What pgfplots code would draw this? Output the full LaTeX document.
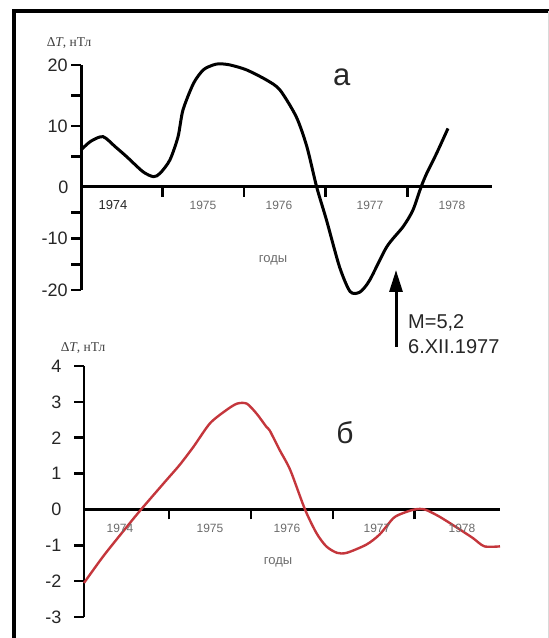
\documentclass[border=0pt]{standalone}
\usepackage{fontspec}
\setmainfont{Liberation Sans}
\newfontfamily\serifl{Liberation Serif}
\usepackage{pgfplots}
\pgfplotsset{compat=1.18}
\usetikzlibrary{arrows.meta}
\definecolor{curvered}{RGB}{196,54,60}
\definecolor{yrgray}{gray}{0.42}
\begin{document}
\begin{tikzpicture}[x=1pt,y=1pt]
\useasboundingbox (0,0) rectangle (549,638);
% frame
\draw[line width=3.3pt] (14,0) -- (14,627) -- (549,627);
\draw[black!15, line width=1pt] (548.5,0) -- (548.5,627);

% ---------- top panel (а) ----------
\begin{axis}[
  at={(81pt,348pt)}, anchor=south west,
  scale only axis, width=411pt, height=225pt,
  xmin=1974, xmax=1979.04, ymin=-20, ymax=20,
  y coord trafo/.code={\pgfmathparse{#1>0 ? 1.1845*#1 : #1}},
  clip=false,
  axis x line=middle, axis y line=left,
  axis line style={-, line width=3pt, black},
  tick align=outside,
  major tick length=10pt,
  every tick/.style={line width=2.8pt, black},
  major tick style={line width=2.8pt, black},
  xtick={1975,1976,1977,1978}, xticklabels={,,,},
  ytick={-20,-15,-10,-5,5,10,15,20},
  yticklabels={-20,,-10,,,10,,20},
  extra y ticks={0}, extra y tick labels={0},
  extra y tick style={major tick length=0pt, yticklabel style={xshift=-9pt}},
  yticklabel style={font=\fontsize{18}{18}\selectfont, text=black!85, anchor=east},
]
\addplot[black, line width=3pt, smooth, tension=0.45] coordinates {
(1974.00,6.07) (1974.12,7.5) (1974.27,8.25) (1974.42,6.6) (1974.56,4.97)
(1974.76,2.5) (1974.89,1.69) (1974.97,2.25) (1975.09,4.43) (1975.19,8.25)
(1975.25,12.6) (1975.38,17.0) (1975.50,19.2) (1975.62,20.0) (1975.70,20.2)
(1975.83,20.0) (1976.03,19.2) (1976.28,17.5) (1976.44,15.9) (1976.64,11.5)
(1976.77,6.6) (1976.89,0) (1977.01,-6.4) (1977.17,-15.5) (1977.30,-20.3)
(1977.42,-20.4) (1977.54,-18.1) (1977.75,-11.6) (1977.95,-7.7) (1978.07,-4.5)
(1978.17,0) (1978.24,2.25) (1978.36,5.5) (1978.50,9.6)
};
\end{axis}

% ---------- bottom panel (б) ----------
\begin{axis}[
  at={(84pt,21pt)}, anchor=south west,
  scale only axis, width=416pt, height=251pt,
  xmin=1973.963, xmax=1979.04, ymin=-3, ymax=4,
  clip=false,
  axis x line=middle, axis y line=left,
  axis line style={-, line width=2.8pt, black},
  tick align=outside,
  major tick length=10pt,
  every tick/.style={line width=2.6pt, black},
  major tick style={line width=2.6pt, black},
  xtick={1975,1976,1977,1978}, xticklabels={,,,},
  ytick={-3,-2,-1,1,2,3,4},
  yticklabels={-3,-2,-1,1,2,3,4},
  extra y ticks={0}, extra y tick labels={0},
  extra y tick style={major tick length=0pt, yticklabel style={xshift=-10pt}},
  yticklabel style={font=\fontsize{18}{18}\selectfont, text=black!85, anchor=east, xshift=-9pt},
]
\addplot[curvered, line width=2.4pt, smooth, tension=0.45] coordinates {
(1973.963,-2.05) (1974.20,-1.3) (1974.48,-0.5) (1974.66,0.0) (1974.97,0.82)
(1975.13,1.24) (1975.30,1.75) (1975.50,2.4) (1975.70,2.77) (1975.83,2.95)
(1975.95,2.95) (1976.07,2.67) (1976.19,2.3) (1976.23,2.2) (1976.35,1.66)
(1976.48,1.1) (1976.66,0.0) (1976.80,-0.66) (1976.92,-1.03) (1977.05,-1.21)
(1977.17,-1.21) (1977.41,-0.98) (1977.57,-0.7) (1977.74,-0.24) (1977.86,-0.1)
(1978.00,0.0) (1978.12,0.0) (1978.30,-0.2) (1978.55,-0.56) (1978.71,-0.8)
(1978.85,-1.03) (1979.04,-1.03)
};
\end{axis}

% ---------- labels ----------
\node[text=black!75, font=\serifl\fontsize{13.5}{13.5}\selectfont] at (69,595) {Δ\textit{T}, нТл};
\node[text=black!75, font=\serifl\fontsize{13.5}{13.5}\selectfont] at (83,290) {Δ\textit{T}, нТл};

% years top
\node[text=black!85, font=\fontsize{13}{13}\selectfont] at (113,433) {1974};
\node[text=yrgray, font=\fontsize{12}{12}\selectfont] at (203,433) {1975};
\node[text=yrgray, font=\fontsize{12}{12}\selectfont] at (279,433) {1976};
\node[text=yrgray, font=\fontsize{12}{12}\selectfont] at (370,433) {1977};
\node[text=yrgray, font=\fontsize{12}{12}\selectfont] at (452,433) {1978};
\node[text=yrgray, font=\fontsize{13}{13}\selectfont] at (273,378) {годы};

% years bottom
\node[text=yrgray, font=\fontsize{12}{12}\selectfont] at (120,110) {1974};
\node[text=yrgray, font=\fontsize{12}{12}\selectfont] at (210,110) {1975};
\node[text=yrgray, font=\fontsize{12}{12}\selectfont] at (287,110) {1976};
\node[text=yrgray, font=\fontsize{12}{12}\selectfont] at (377,110) {1977};
\node[text=yrgray, font=\fontsize{12}{12}\selectfont] at (462,110) {1978};
\node[text=yrgray, font=\fontsize{13}{13}\selectfont] at (278,76) {годы};

% panel letters
\node[text=black!85, font=\fontsize{31}{31}\selectfont] at (341.7,561) {а};
\node[text=black!85, font=\fontsize{30}{30}\selectfont] at (345,205) {б};

% earthquake annotation
\draw[line width=3pt, -{Triangle[length=22pt,width=13pt]}] (396,291) -- (396,368);
\node[anchor=west, inner sep=0pt, text=black!85, font=\fontsize{20}{20}\selectfont] at (408,315) {M=5,2};
\node[anchor=west, inner sep=0pt, text=black!85, font=\fontsize{20}{20}\selectfont] at (408,291) {6.XII.1977};
\end{tikzpicture}
\end{document}
